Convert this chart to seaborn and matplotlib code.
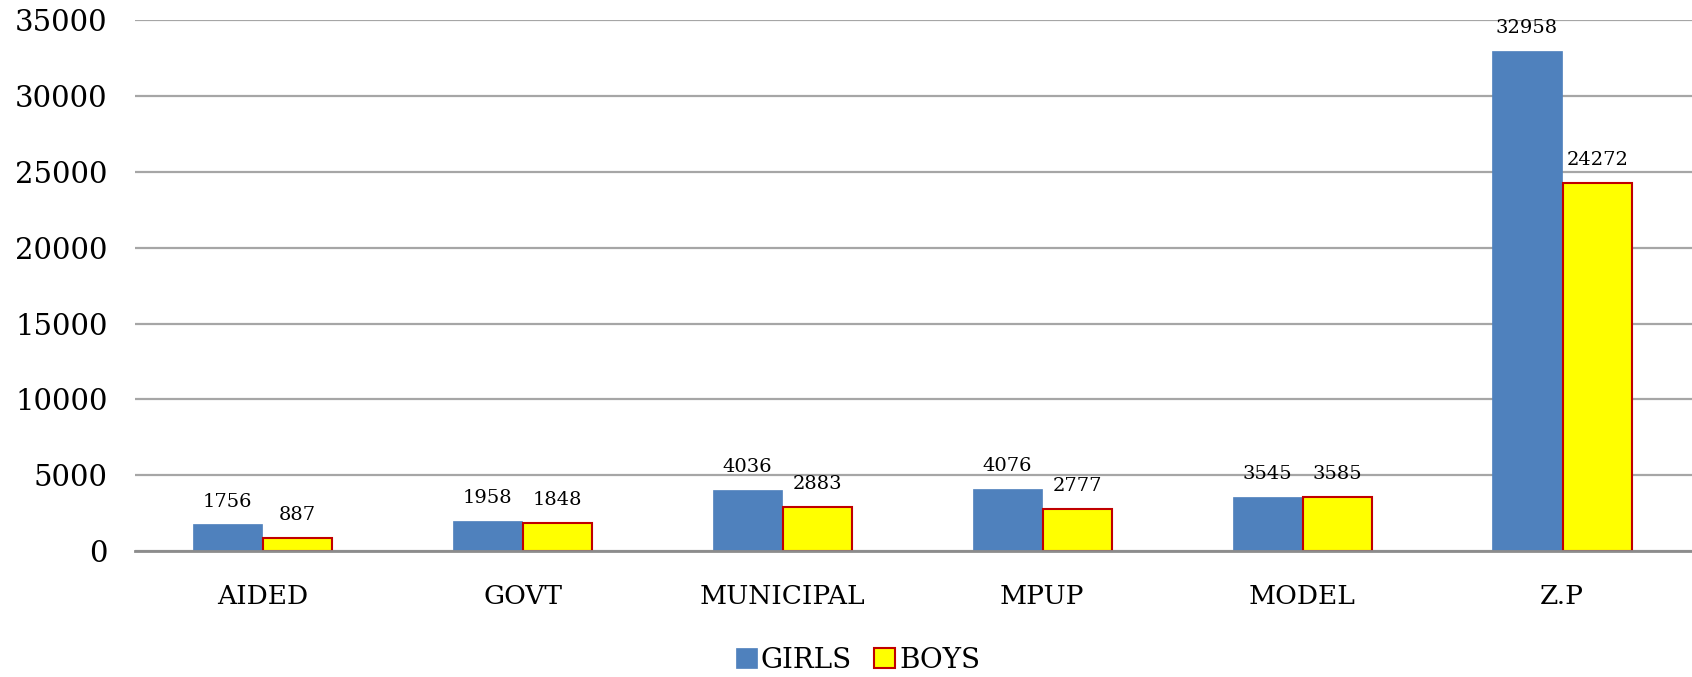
import matplotlib
matplotlib.use("Agg")
import matplotlib.pyplot as plt
import seaborn as sns
import pandas as pd
from matplotlib.patches import Patch

categories = ["AIDED", "GOVT", "MUNICIPAL", "MPUP", "MODEL", "Z.P"]
girls = [1756, 1958, 4036, 4076, 3545, 32958]
boys = [887, 1848, 2883, 2777, 3585, 24272]
series = ["GIRLS", "BOYS"]
y_ticks = [0, 5000, 10000, 15000, 20000, 25000, 30000, 35000]

df = pd.DataFrame({
    "category": categories * 2,
    "count": girls + boys,
    "group": [series[0]] * len(categories) + [series[1]] * len(categories),
})

sns.set_theme(style="white")
plt.rcParams["font.family"] = ["DejaVu Serif"]
plt.rcParams["text.color"] = "black"
plt.rcParams["xtick.color"] = "black"
plt.rcParams["ytick.color"] = "black"

fig = plt.figure(figsize=(16.92, 6.77), dpi=100)
ax = fig.add_axes([0.08, 0.186, 0.92, 0.784])

blue, yellow, red = "#4F81BD", "#FFFF00", "#C00000"
palette = {"GIRLS": blue, "BOYS": yellow}
sns.barplot(data=df, x="category", y="count", hue="group", order=categories,
            hue_order=series, palette=palette, width=0.54, gap=0.015,
            saturation=1, ax=ax, legend=False)

# red outline on the boys bars
for bar in ax.containers[1]:
    bar.set_edgecolor(red)
    bar.set_linewidth(1.5)
for bar in ax.containers[0]:
    bar.set_edgecolor(blue)
    bar.set_linewidth(0.5)

for cont in ax.containers:
    ax.bar_label(cont, labels=[str(int(v)) for v in cont.datavalues],
                 padding=10, fontsize=14, color="black")

ax.set_ylim(0, 35000)
ax.set_xlim(-0.49, 5.5)
ax.set_yticks(y_ticks)
ax.set_yticklabels([str(v) for v in y_ticks], fontsize=21)
ax.tick_params(axis="x", labelsize=19, pad=24, length=0, colors="black")
ax.tick_params(axis="y", length=0, pad=20, colors="black")
ax.set_xlabel("")
ax.set_ylabel("")
ax.yaxis.grid(True, color="#a6a6a6", linewidth=1.6)
ax.set_axisbelow(True)
for side in ["left", "right", "top"]:
    ax.spines[side].set_visible(False)
ax.spines["bottom"].set_color("#8c8c8c")
ax.spines["bottom"].set_linewidth(2)

handles = [Patch(facecolor=blue, edgecolor=blue, linewidth=0.5),
           Patch(facecolor=yellow, edgecolor=red, linewidth=1.5)]
ax.legend(handles, series, loc="center", bbox_to_anchor=(0.507, 0.025),
          bbox_transform=fig.transFigure, ncol=2, frameon=False,
          fontsize=20, handlelength=0.75, handleheight=0.75,
          handletextpad=0.15, columnspacing=0.8)

fig.savefig("out.png", dpi=100)
